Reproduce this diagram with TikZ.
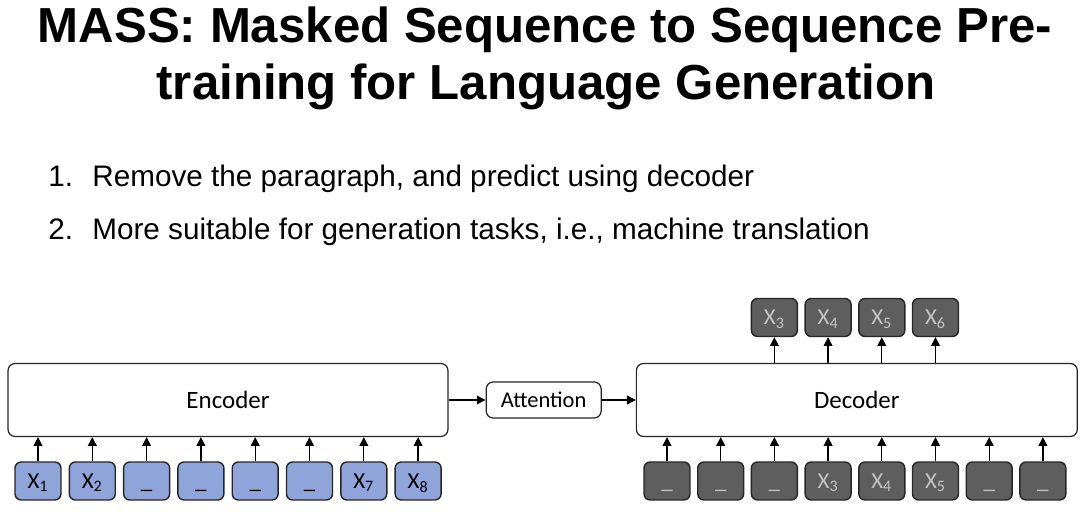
\documentclass[tikz,border=0pt]{standalone}
\usepackage{fontspec}
\setmainfont{Liberation Sans}
\newfontfamily\calfont{Carlito}
\usetikzlibrary{arrows.meta, positioning}
\definecolor{tokblue}{HTML}{8FA4D9}
\definecolor{tokgray}{HTML}{5E5E5E}
\definecolor{toktext}{HTML}{C4C4C4}
\newcommand{\xs}[1]{X\textsubscript{#1}}

\begin{document}
\begin{tikzpicture}[x=0.02cm, y=-0.02cm,
  block/.style={draw=black!85, line width=0.7pt, rounded corners=4pt, fill=white, minimum height=1.46cm, font=\calfont\fontsize{14.2}{16}\selectfont},
  tok/.style={draw=black!85, line width=0.8pt, rounded corners=3.5pt, minimum width=0.92cm, minimum height=0.76cm, inner sep=0pt, text height=8.5pt, text depth=0pt, font=\calfont\fontsize{13}{15}\selectfont},
  enctok/.style={tok, fill=tokblue},
  dectok/.style={tok, fill=tokgray, text=toktext},
  arr/.style={-{Triangle[length=5pt, width=5pt]}, line width=0.75pt},
  bullet/.style={anchor=base west, inner sep=0pt, font=\fontsize{16.9}{20}\selectfont}
]
  \useasboundingbox[fill=white] (0,0) rectangle (1080,523);

  % Title
  \node[anchor=base, font=\bfseries\fontsize{28}{34}\selectfont] (title1) at (545,43) {MASS: Masked Sequence to Sequence Pre-};
  \node[anchor=base, font=\bfseries\fontsize{28}{34}\selectfont] (title2) at (546,100) {training for Language Generation};

  % Bullets
  \node[bullet] (item1) at (48,187) {\makebox[0.88cm][l]{1.}Remove the paragraph, and predict using decoder};
  \node[bullet] (item2) at (48,240) {\makebox[0.88cm][l]{2.}More suitable for generation tasks, i.e., machine translation};

  % Blocks
  \node[block, minimum width=8.8cm] (enc) at (228,400) {Encoder};
  \node[block, minimum width=2.3cm, minimum height=0.72cm, font=\calfont\fontsize{12.8}{15}\selectfont, right=0.74cm of enc] (att) {Attention};
  \node[block, minimum width=8.82cm, right=0.68cm of att] (dec) {Decoder};

  % Encoder input
  \foreach \lbl [count=\i] in {\xs{1}, \xs{2}, \_, \_, \_, \_, \xs{7}, \xs{8}}
    \node[enctok] (e\i) at ({38+54.3*(\i-1)}, 481) {\lbl};

  % Decoder input
  \foreach \lbl [count=\i] in {\_, \_, \_, \xs{3}, \xs{4}, \xs{5}, \_, \_}
    \node[dectok] (d\i) at ({667+53.7*(\i-1)}, 481) {\lbl};

  % Decoder output
  \foreach \lbl [count=\i from 3] in {\xs{3}, \xs{4}, \xs{5}, \xs{6}}
    \node[dectok] (o\i) at (d\i |- 0,317.5) {\lbl};

  % Arrows
  \foreach \i in {1,...,8} {
    \draw[arr] (e\i) -- (e\i |- enc.south);
    \draw[arr] (d\i) -- (d\i |- dec.south);
  }
  \foreach \i in {3,...,6}
    \draw[arr] (dec.north -| o\i) -- (o\i);
  \draw[arr] (enc) -- (att);
  \draw[arr] (att) -- (dec);
\end{tikzpicture}
\end{document}
